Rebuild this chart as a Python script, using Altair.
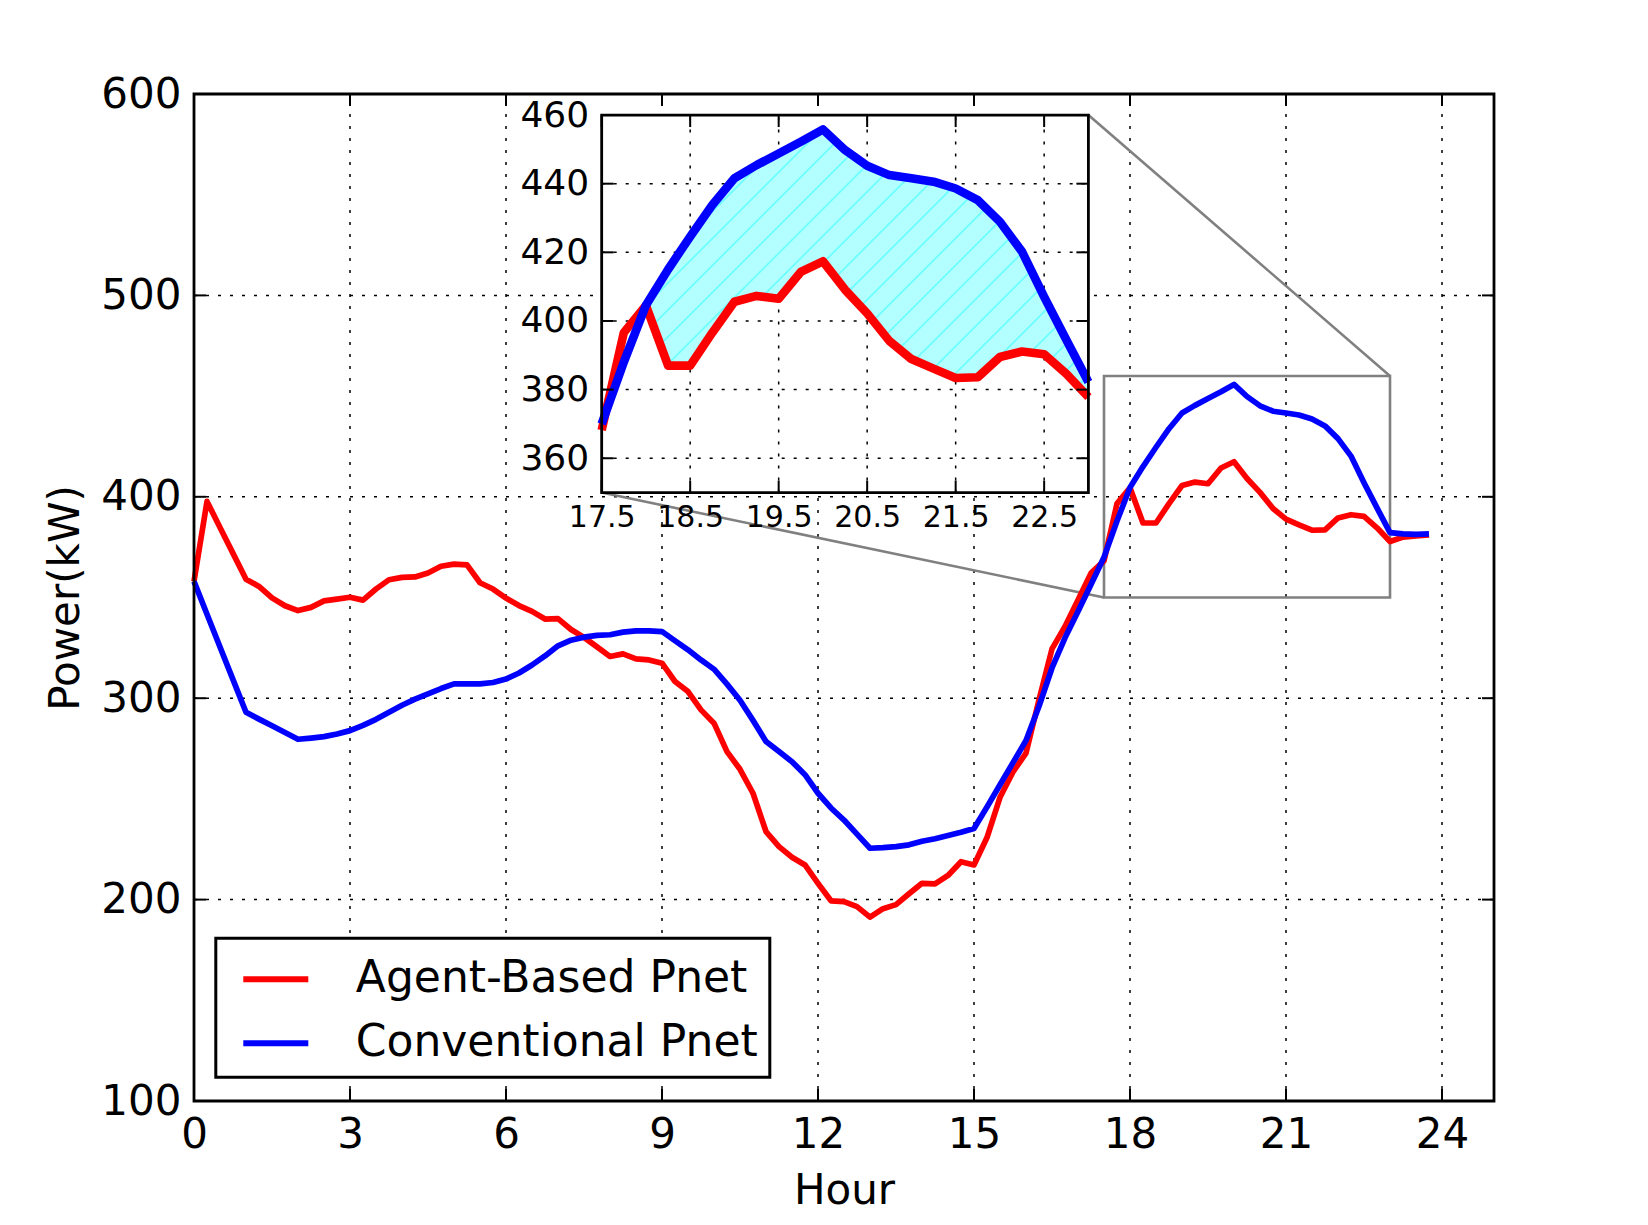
import altair as alt
import pandas as pd

# ---------------- data ----------------
SERIES = ["Agent-Based Pnet", "Conventional Pnet"]
COLORS = ["#ff0000", "#0000ff"]
HOURS = [q / 4 for q in range(96)]  # quarter-hour time stamps 0.00 .. 23.75

AGENT = [
    358.0, 397.7, 384.8, 371.9, 359.1, 355.5, 349.8, 345.9,
    343.5, 345.1, 348.3, 349.2, 350.1, 348.7, 354.2, 358.8,
    360.0, 360.2, 362.2, 365.5, 366.6, 366.2, 357.3, 354.2,
    349.7, 346.0, 343.1, 339.3, 339.5, 334.1, 330.2, 325.5,
    320.7, 322.0, 319.5, 319.0, 317.4, 308.3, 303.3, 294.2,
    287.6, 273.5, 264.7, 252.8, 233.8, 226.3, 221.0, 217.2,
    208.1, 199.4, 199.0, 196.5, 191.3, 195.5, 197.5, 202.9,
    208.1, 207.8, 212.0, 218.8, 217.2, 230.8, 250.8, 263.4,
    272.7, 299.2, 324.5, 335.6, 348.8, 362.1, 368.2, 396.6,
    404.5, 387.0, 387.0, 396.6, 405.6, 407.3, 406.5, 414.3,
    417.4, 409.1, 402.2, 394.2, 388.9, 386.1, 383.4, 383.6,
    389.5, 391.1, 390.3, 384.6, 377.8, 380.0, 380.6, 381.1,
]
CONV = [
    358.0, 341.7, 325.4, 309.2, 293.0, 289.6, 286.3, 283.0,
    279.6, 280.2, 280.9, 282.2, 283.9, 286.5, 289.5, 293.0,
    296.5, 299.5, 302.2, 304.8, 307.1, 307.1, 307.1, 307.8,
    309.5, 312.5, 316.5, 321.0, 326.0, 328.8, 330.3, 331.2,
    331.5, 332.8, 333.4, 333.4, 333.1, 328.5, 324.0, 319.0,
    314.4, 307.0, 299.0, 289.0, 278.5, 273.5, 268.5, 262.0,
    252.8, 245.5, 239.5, 232.5, 225.5, 225.8, 226.3, 227.2,
    229.0, 230.2, 231.8, 233.4, 235.3, 246.0, 257.0, 268.0,
    279.0, 296.0, 315.0, 330.0, 343.0, 356.5, 370.0, 388.0,
    404.6, 415.0, 424.6, 433.8, 441.6, 445.4, 448.8, 452.2,
    455.8, 449.8, 445.2, 442.5, 441.6, 440.6, 438.6, 435.2,
    428.9, 420.2, 407.0, 394.5, 382.2, 381.6, 381.3, 381.6,
]

X_DOMAIN = [0, 25]
Y_DOMAIN = [100, 600]
X_TICKS = [0, 3, 6, 9, 12, 15, 18, 21, 24]
Y_TICKS = [100, 200, 300, 400, 500, 600]

IX_DOMAIN = [17.5, 23.0]
IY_DOMAIN = [350, 460]
IX_TICKS = [17.5, 18.5, 19.5, 20.5, 21.5, 22.5]
IY_TICKS = [360, 380, 400, 420, 440, 460]
FILL_FROM = 18.0

# ---------------- layout / style ----------------
W, H = 1300, 1007
INSET = dict(left=0.3136, right=0.688, bottom=0.6042, top=0.9791)  # axes fraction
TL = 12  # tick length (px)
FONT = "DejaVu Sans"
GRID_DASH = [3, 9]

IX0, IX1 = INSET["left"] * W, INSET["right"] * W
IY_TOP, IY_BOT = (1 - INSET["top"]) * H, (1 - INSET["bottom"]) * H

df = pd.DataFrame({
    "t": HOURS * 2,
    "kW": AGENT + CONV,
    "series": [SERIES[0]] * len(HOURS) + [SERIES[1]] * len(HOURS),
})

# ---------------- main scales / axes ----------------
XS = alt.Scale(domain=X_DOMAIN, nice=False, zero=False)
YS = alt.Scale(domain=Y_DOMAIN, nice=False, zero=False)
AX = alt.Axis(values=X_TICKS, format="d", title="Hour", grid=False, ticks=False,
              domain=False, labelFontSize=42, titleFontSize=42, labelPadding=13,
              titlePadding=15, labelFlush=False, labelOverlap=False)
AY = alt.Axis(values=Y_TICKS, format="d", title="Power(kW)", grid=False, ticks=False,
              domain=False, labelFontSize=42, titleFontSize=42, labelPadding=13,
              titlePadding=13, labelFlush=False, labelOverlap=False)


def X(f):
    return alt.X(f"{f}:Q", scale=XS, axis=AX)


def Y(f):
    return alt.Y(f"{f}:Q", scale=YS, axis=AY)


grid_x = alt.Chart(pd.DataFrame({"t": X_TICKS, "lo": Y_DOMAIN[0], "hi": Y_DOMAIN[1]})).mark_rule(
    color="black", strokeWidth=1.5, strokeDash=GRID_DASH).encode(x=X("t"), y=Y("lo"), y2="hi")
grid_y = alt.Chart(pd.DataFrame({"kW": Y_TICKS, "lo": X_DOMAIN[0], "hi": X_DOMAIN[1]})).mark_rule(
    color="black", strokeWidth=1.5, strokeDash=GRID_DASH).encode(y=Y("kW"), x=X("lo"), x2="hi")

zoom_box = alt.Chart(pd.DataFrame({"x0": [IX_DOMAIN[0]], "x1": [IX_DOMAIN[1]],
                                   "y0": [IY_DOMAIN[0]], "y1": [IY_DOMAIN[1]]})).mark_rect(
    fillOpacity=0, stroke="#808080", strokeWidth=2.6).encode(x=X("x0"), x2="x1", y=Y("y0"), y2="y1")

conn_df = pd.DataFrame({
    "xa": [X_DOMAIN[0] + INSET["right"] * (X_DOMAIN[1] - X_DOMAIN[0]),
           X_DOMAIN[0] + INSET["left"] * (X_DOMAIN[1] - X_DOMAIN[0])],
    "ya": [Y_DOMAIN[0] + INSET["top"] * (Y_DOMAIN[1] - Y_DOMAIN[0]),
           Y_DOMAIN[0] + INSET["bottom"] * (Y_DOMAIN[1] - Y_DOMAIN[0])],
    "xb": [IX_DOMAIN[1], IX_DOMAIN[0]],
    "yb": [IY_DOMAIN[1], IY_DOMAIN[0]],
})
connectors = alt.Chart(conn_df).mark_rule(color="#808080", strokeWidth=2.6).encode(
    x=X("xa"), y=Y("ya"), x2="xb", y2="yb")

lines = alt.Chart(df).mark_line(strokeWidth=5.7, strokeJoin="round").encode(
    x=X("t"), y=Y("kW"),
    color=alt.Color("series:N", scale=alt.Scale(domain=SERIES, range=COLORS),
                    legend=alt.Legend(title=None, orient="none", legendX=21.8, legendY=844.3,
                                      zindex=1)),
)

xt_df = pd.DataFrame({"t": X_TICKS})
yt_df = pd.DataFrame({"kW": Y_TICKS})
tick_kw = dict(color="black", strokeWidth=2)
ticks_main = [
    alt.Chart(xt_df).mark_rule(**tick_kw).encode(x=X("t"), y=alt.value(H), y2=alt.value(H - TL)),
    alt.Chart(xt_df).mark_rule(**tick_kw).encode(x=X("t"), y=alt.value(0), y2=alt.value(TL)),
    alt.Chart(yt_df).mark_rule(**tick_kw).encode(y=Y("kW"), x=alt.value(0), x2=alt.value(TL)),
    alt.Chart(yt_df).mark_rule(**tick_kw).encode(y=Y("kW"), x=alt.value(W), x2=alt.value(W - TL)),
]

frame = alt.Chart(pd.DataFrame({"x0": [X_DOMAIN[0]], "x1": [X_DOMAIN[1]],
                                "y0": [Y_DOMAIN[0]], "y1": [Y_DOMAIN[1]]})).mark_rect(
    fillOpacity=0, stroke="black", strokeWidth=2.8).encode(x=X("x0"), x2="x1", y=Y("y0"), y2="y1")

main = alt.layer(grid_x, grid_y, zoom_box, connectors, lines, *ticks_main, frame)

# ---------------- inset ----------------
IXS = alt.Scale(domain=IX_DOMAIN, range=[IX0, IX1], nice=False, zero=False)
IYS = alt.Scale(domain=IY_DOMAIN, range=[IY_BOT, IY_TOP], nice=False, zero=False)
IAX = alt.Axis(values=IX_TICKS, format=".1f", title=None, orient="bottom", offset=-(H - IY_BOT),
               grid=False, ticks=False, domain=False, labelFontSize=30, labelPadding=10,
               labelFlush=False, labelOverlap=False, zindex=1)
IAY = alt.Axis(values=IY_TICKS, format="d", title=None, orient="left", offset=-IX0,
               grid=False, ticks=False, domain=False, labelFontSize=36, labelPadding=13,
               labelFlush=False, labelOverlap=False, zindex=1)


def IX(f):
    return alt.X(f"{f}:Q", scale=IXS, axis=IAX)


def IY(f):
    return alt.Y(f"{f}:Q", scale=IYS, axis=IAY)


box_df = pd.DataFrame({"x0": [IX_DOMAIN[0]], "x1": [IX_DOMAIN[1]],
                       "y0": [IY_DOMAIN[0]], "y1": [IY_DOMAIN[1]]})
ibg = alt.Chart(box_df).mark_rect(fill="white", strokeWidth=0).encode(
    x=IX("x0"), x2="x1", y=IY("y0"), y2="y1")

igrid_x = alt.Chart(pd.DataFrame({"t": IX_TICKS, "lo": IY_DOMAIN[0], "hi": IY_DOMAIN[1]})).mark_rule(
    color="black", strokeWidth=1.5, strokeDash=GRID_DASH).encode(x=IX("t"), y=IY("lo"), y2="hi")
igrid_y = alt.Chart(pd.DataFrame({"kW": IY_TICKS, "lo": IX_DOMAIN[0], "hi": IX_DOMAIN[1]})).mark_rule(
    color="black", strokeWidth=1.5, strokeDash=GRID_DASH).encode(y=IY("kW"), x=IX("lo"), x2="hi")

# fill between the two curves (hatched cyan)
fill_df = pd.DataFrame({"t": HOURS, "red": AGENT, "blue": CONV})
fill_df = fill_df[(fill_df.t >= FILL_FROM) & (fill_df.t <= IX_DOMAIN[1])]
px_h = (IX1 - IX0) / (IX_DOMAIN[1] - IX_DOMAIN[0])
px_kw = (IY_BOT - IY_TOP) / (IY_DOMAIN[1] - IY_DOMAIN[0])
bw = (fill_df.t.max() - fill_df.t.min()) * px_h
bh = (fill_df.blue.max() - fill_df.red.min()) * px_kw
tg = (1 / bh + 1 / bw) / (1 / bh ** 2 + 1 / bw ** 2)
S = bw + bh
step = 27.0 / S
half = 1.3 / S
BASE, HATCH = "#b3ffff", "#6dffff"
stops = [{"offset": 0, "color": BASE}]
o = step * 0.5
while o + 2 * half < 1:
    stops += [{"offset": o - 1.5 * half, "color": BASE},
              {"offset": o - 0.5 * half, "color": HATCH},
              {"offset": o + 0.5 * half, "color": HATCH},
              {"offset": o + 1.5 * half, "color": BASE}]
    o += step
stops.append({"offset": 1, "color": BASE})
gradient = {"gradient": "linear", "x1": 0, "y1": 0, "x2": tg / bh, "y2": tg / bw, "stops": stops}

ifill = alt.Chart(fill_df).mark_area(fill=gradient, opacity=1, strokeWidth=0).encode(
    x=IX("t"), y=IY("red"), y2="blue")

inset_df = df[(df.t >= IX_DOMAIN[0]) & (df.t <= IX_DOMAIN[1])]
ilines = [
    alt.Chart(inset_df[inset_df.series == s]).mark_line(color=c, strokeWidth=8.6, strokeJoin="round")
    .encode(x=IX("t"), y=IY("kW"))
    for s, c in zip(SERIES, COLORS)
]

ixt = pd.DataFrame({"t": IX_TICKS})
iyt = pd.DataFrame({"kW": IY_TICKS})
iticks = [
    alt.Chart(ixt).mark_rule(**tick_kw).encode(x=IX("t"), y=alt.value(IY_BOT), y2=alt.value(IY_BOT - TL)),
    alt.Chart(ixt).mark_rule(**tick_kw).encode(x=IX("t"), y=alt.value(IY_TOP), y2=alt.value(IY_TOP + TL)),
    alt.Chart(iyt).mark_rule(**tick_kw).encode(y=IY("kW"), x=alt.value(IX0), x2=alt.value(IX0 + TL)),
    alt.Chart(iyt).mark_rule(**tick_kw).encode(y=IY("kW"), x=alt.value(IX1), x2=alt.value(IX1 - TL)),
]

iframe = alt.Chart(box_df).mark_rect(fillOpacity=0, stroke="black", strokeWidth=2.8).encode(
    x=IX("x0"), x2="x1", y=IY("y0"), y2="y1")

inset = alt.layer(ibg, igrid_x, igrid_y, ifill, *ilines, *iticks, iframe)

chart = (
    alt.layer(main, inset)
    .resolve_scale(x="independent", y="independent")
    .properties(width=W, height=H,
                padding={"left": 186, "top": 86, "right": 146, "bottom": 112},
                autosize=alt.AutoSizeParams(type="none"))
    .configure_view(strokeWidth=0)
    .configure_axis(labelFont=FONT, titleFont=FONT, labelColor="black", titleColor="black",
                    titleFontWeight="normal")
    .configure_legend(labelFont=FONT, labelFontSize=44, labelColor="black", labelLimit=0,
                      symbolType="M-1.25,0H1.25", symbolSize=2704, symbolStrokeWidth=6,
                      symbolOffset=19, labelOffset=51, padding=12, rowPadding=13,
                      strokeColor="black", strokeWidth=3, fillColor="white", cornerRadius=0)
)

chart.save("out.html", embed_options={"renderer": "svg", "actions": False})
